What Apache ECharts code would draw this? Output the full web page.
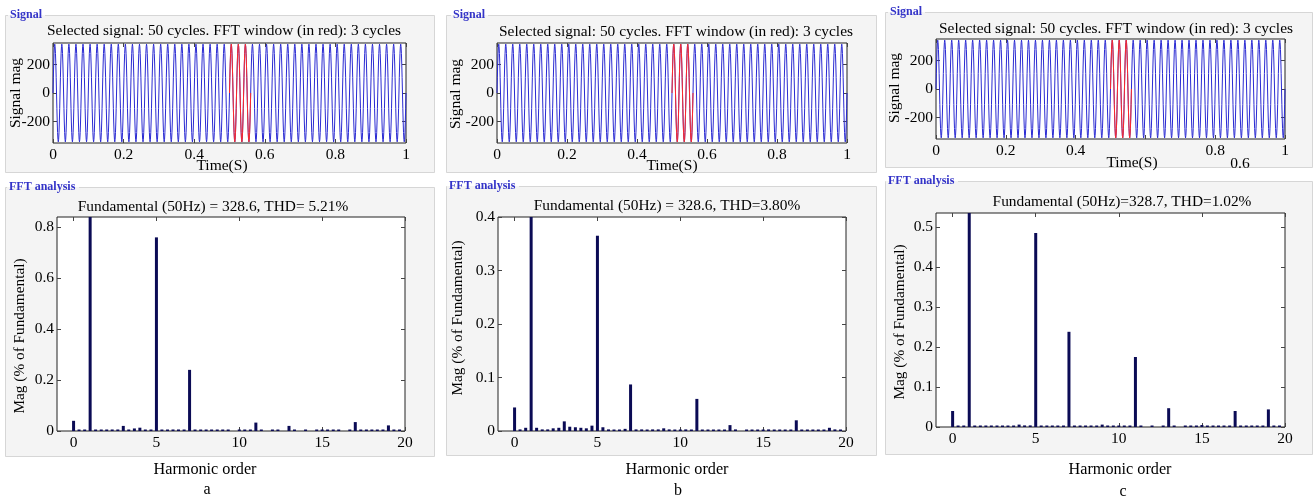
<!DOCTYPE html>
<html><head><meta charset="utf-8">
<script src="https://cdn.jsdelivr.net/npm/echarts@6/dist/echarts.min.js"></script>
<style>html,body{margin:0;padding:0;background:#fff}#c{width:1313px;height:500px}</style>
</head><body><div id="c"></div>
<script>
// ---------- data ----------
// one period of the 50 Hz signal, 20 samples (peak about ±342)
const signalCycle = [0, 108, 203, 277, 324, 342, 324, 277, 203, 108, 0, -108, -203, -277, -324, -342, -324, -277, -203, -108];
const cyclesShown = 50;            // "Selected signal: 50 cycles"
const cycleDuration = 0.02;        // s
const fftWindowStart = 0.5;        // red window
const fftWindowEnd = 0.56;         // 3 cycles
const timeTicks = [0, 0.2, 0.4, 0.6, 0.8, 1];
const timeLabelsC = [0, 0.2, 0.4, 0.8, 1];
const signalTicks = [-200, 0, 200];

const harmonicBins = [0,0.33,0.67,1,1.33,1.67,2,2.33,2.67,3,3.33,3.67,4,4.33,4.67,5,5.33,5.67,6,6.33,6.67,7,7.33,7.67,8,8.33,8.67,9,9.33,9.67,10,10.33,10.67,11,11.33,11.67,12,12.33,12.67,13,13.33,13.67,14,14.33,14.67,15,15.33,15.67,16,16.33,16.67,17,17.33,17.67,18,18.33,18.67,19,19.33,19.67,20];
const harmonicTicks = [0, 5, 10, 15, 20];

const fftA = [0.040,0.004,0.004,1,0.004,0.004,0.005,0.006,0.006,0.020,0.004,0.010,0.013,0.004,0.003,0.760,0.004,0.005,0.006,0.006,0.005,0.240,0.004,0.004,0.004,0.004,0.004,0.004,0.003,null,0.003,0.004,0.005,0.033,0.004,null,0.003,0.003,null,0.020,0.004,null,0.003,null,0.003,0.004,0.004,0.004,0.003,null,0.004,0.035,0.004,0.004,0.004,0.004,0.004,0.022,0.004,0.003,null];
const fftB = [0.044,0.003,0.006,1,0.006,0.003,0.003,0.005,0.006,0.018,0.008,0.007,0.006,0.005,0.010,0.365,0.007,0.003,0.002,0.002,0.004,0.087,0.003,0.003,0.002,0.003,0.003,0.005,0.003,0.002,0.002,0.003,0.002,0.060,0.002,0.002,0.002,0.002,0.002,0.011,0.003,null,0.002,0.002,0.002,0.002,0.003,0.002,0.002,0.002,0.002,0.020,0.002,0.002,0.002,0.002,0.002,0.006,0.003,0.002,null];
const fftC = [0.040,0.003,0.003,1,0.003,0.003,0.003,0.003,0.003,0.003,0.003,0.003,0.006,0.004,0.004,0.485,0.003,0.003,0.003,0.003,0.003,0.238,0.003,0.003,0.003,0.003,0.003,0.006,0.003,0.003,0.003,0.003,0.003,0.175,0.003,null,0.003,null,0.003,0.047,0.003,null,0.003,0.003,0.003,0.005,0.003,0.003,0.003,0.003,0.003,0.040,0.003,0.003,0.003,0.003,0.003,0.044,0.003,0.003,null];
const fftTicksA = [0, 0.2, 0.4, 0.6, 0.8];
const fftTicksB = [0, 0.1, 0.2, 0.3, 0.4];
const fftTicksC = [0, 0.1, 0.2, 0.3, 0.4, 0.5];
const fftMaxA = 0.84, fftMaxB = 0.4, fftMaxC = 0.535;

const signalTitle = 'Selected signal: 50 cycles. FFT window (in red): 3 cycles';
const fftTitles = ['Fundamental (50Hz) = 328.6, THD= 5.21%', 'Fundamental (50Hz) = 328.6, THD=3.80%', 'Fundamental (50Hz)=328.7, THD=1.02%'];
const panelLetters = ['a', 'b', 'c'];

// ---------- build series data ----------
const n = signalCycle.length;
const signal = [];
for (let c = 0; c < cyclesShown; c++) {
  for (let i = 0; i < n; i++) signal.push([Math.round((c * n + i) * 1000 * cycleDuration / n) / 1000, signalCycle[i]]);
}
signal.push([1, signalCycle[0]]);
const redPart = signal.filter(p => p[0] >= fftWindowStart - 1e-9 && p[0] <= fftWindowEnd + 1e-9);
const toBars = arr => harmonicBins.map((h, i) => [h, arr[i] == null ? '-' : arr[i]]);

// ---------- layout ----------
const FONT = 'Liberation Serif';
const sigGrids = [
  {left: 53, top: 43, width: 353, height: 100},
  {left: 497, top: 43, width: 350, height: 100},
  {left: 936, top: 39, width: 349, height: 100}
];
const fftGrids = [
  {left: 57, top: 217, width: 348, height: 214},
  {left: 498, top: 217, width: 348, height: 214},
  {left: 936, top: 213, width: 349, height: 214}
];
const fftData = [fftA, fftB, fftC];
const fftTicks = [fftTicksA, fftTicksB, fftTicksC];
const fftMax = [fftMaxA, fftMaxB, fftMaxC];

const grid = [], xAxis = [], yAxis = [], series = [];
const tickStyle = {show: true, inside: true, length: 4, lineStyle: {color: '#444'}};
const lbl = {color: '#000', fontFamily: FONT, fontSize: 15.5};
const noLine = {show: false, onZero: false};

function addPanel(g, xmin, xmax, xTickVals, xLabelVals, ymin, ymax, yTickVals) {
  const gi = grid.length;
  grid.push(Object.assign({show: true, backgroundColor: '#fff', borderColor: '#222', borderWidth: 1, containLabel: false}, g));
  const xi = xAxis.length, yi = yAxis.length;
  xAxis.push({type: 'value', gridIndex: gi, position: 'bottom', min: xmin, max: xmax,
    axisLine: noLine, splitLine: {show: false},
    axisTick: Object.assign({customValues: xTickVals}, tickStyle),
    axisLabel: Object.assign({customValues: xLabelVals, margin: 4}, lbl)});
  xAxis.push({type: 'value', gridIndex: gi, position: 'top', min: xmin, max: xmax,
    axisLine: noLine, splitLine: {show: false},
    axisTick: Object.assign({customValues: xTickVals}, tickStyle), axisLabel: {show: false}});
  yAxis.push({type: 'value', gridIndex: gi, position: 'left', min: ymin, max: ymax,
    axisLine: noLine, splitLine: {show: false},
    axisTick: Object.assign({customValues: yTickVals}, tickStyle),
    axisLabel: Object.assign({customValues: yTickVals, margin: 3}, lbl)});
  yAxis.push({type: 'value', gridIndex: gi, position: 'right', min: ymin, max: ymax,
    axisLine: noLine, splitLine: {show: false},
    axisTick: Object.assign({customValues: yTickVals}, tickStyle), axisLabel: {show: false}});
  return [xi, yi];
}

for (let p = 0; p < 3; p++) {
  const [xi, yi] = addPanel(sigGrids[p], 0, 1, timeTicks, p === 2 ? timeLabelsC : timeTicks, -350, 350, signalTicks);
  series.push({type: 'line', xAxisIndex: xi, yAxisIndex: yi, data: signal, showSymbol: false, symbol: 'none',
    lineStyle: {color: '#2a2ad2', width: 1}, clip: true, silent: true});
  series.push({type: 'line', xAxisIndex: xi, yAxisIndex: yi, data: redPart, showSymbol: false, symbol: 'none',
    lineStyle: {color: '#ff2a2a', width: 1}, clip: true, silent: true, z: 3});
}
for (let p = 0; p < 3; p++) {
  const [xi, yi] = addPanel(fftGrids[p], -1, 20, harmonicTicks, harmonicTicks, 0, fftMax[p], fftTicks[p]);
  series.push({type: 'bar', xAxisIndex: xi, yAxisIndex: yi, data: toBars(fftData[p]), barWidth: 3,
    barMinHeight: 1.5, clip: true, itemStyle: {color: '#0b0b55'}, silent: true});
}

// ---------- group boxes & texts ----------
const graphic = [];
function groupBox(x0, y0, x1, y1, label, lx, lw) {
  graphic.push({type: 'rect', z: -10, silent: true, shape: {x: x0, y: y0, width: x1 - x0, height: y1 - y0}, style: {fill: '#f4f4f4'}});
  const st = {stroke: '#d6d6d6', lineWidth: 1};
  graphic.push({type: 'polyline', z: -9, silent: true, shape: {points: [[lx - 2, y0 + 0.5], [x0 + 0.5, y0 + 0.5], [x0 + 0.5, y1 - 0.5], [x1 - 0.5, y1 - 0.5], [x1 - 0.5, y0 + 0.5], [lx + lw + 2, y0 + 0.5]]}, style: Object.assign({fill: null}, st)});
  graphic.push({type: 'text', z: 5, silent: true, x: lx, y: y0, style: {text: label, fill: '#3434c8', font: 'bold 12px "Liberation Serif"', textAlign: 'left', textVerticalAlign: 'middle'}});
}
groupBox(5, 15, 435, 173, 'Signal', 10, 33);
groupBox(446, 15, 877, 173, 'Signal', 453, 33);
groupBox(885, 12, 1313, 168, 'Signal', 890, 33);
groupBox(5, 187, 435, 457, 'FFT analysis', 9, 68);
groupBox(446, 186, 877, 456, 'FFT analysis', 449, 68);
groupBox(885, 181, 1313, 455, 'FFT analysis', 888, 68);

function txt(s, x, y, size, rot) {
  graphic.push({type: 'text', z: 5, silent: true, x: x, y: y, rotation: rot || 0,
    style: {text: s, fill: '#000', font: size + 'px "Liberation Serif"', textAlign: 'center', textVerticalAlign: 'middle'}});
}
const sigTitlePos = [[224, 31], [676, 32], [1116, 29]];
const fftTitlePos = [[213, 207], [667, 206], [1122, 202]];
const timePos = [[222, 166], [672, 166], [1132, 163]];
const sigMagPos = [[16, 93], [456, 94], [895, 88]];
const magPos = [[20, 336], [458, 318], [900, 322]];
const harmPos = [[205, 470], [677, 470], [1120, 470]];
const letterPos = [[207, 490], [678, 491], [1123, 492]];
for (let p = 0; p < 3; p++) {
  txt(signalTitle, sigTitlePos[p][0], sigTitlePos[p][1], 15.4);
  txt(fftTitles[p], fftTitlePos[p][0], fftTitlePos[p][1], 15.4);
  txt('Time(S)', timePos[p][0], timePos[p][1], 15.5);
  txt('Signal mag', sigMagPos[p][0], sigMagPos[p][1], 15.5, Math.PI / 2);
  txt('Mag (% of Fundamental)', magPos[p][0], magPos[p][1], 15.3, Math.PI / 2);
  txt('Harmonic order', harmPos[p][0], harmPos[p][1], 16.2);
  txt(panelLetters[p], letterPos[p][0], letterPos[p][1], 16);
}
txt('0.6', 1240, 164, 15.5);

const chart = echarts.init(document.getElementById('c'), null, {renderer: 'canvas'});
chart.setOption({animation: false, backgroundColor: '#fff', grid, xAxis, yAxis, series, graphic});
</script></body></html>
